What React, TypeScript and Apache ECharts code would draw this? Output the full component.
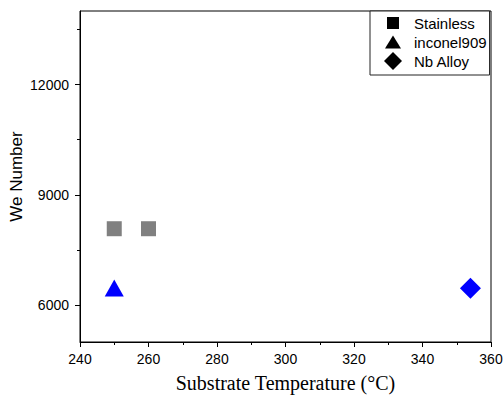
import React, { useEffect, useRef } from "react";
import * as echarts from "echarts";

const stainless: [number, number][] = [[250, 8080], [260, 8080]];
const inconel: [number, number][] = [[250, 6470]];
const nbAlloy: [number, number][] = [[354, 6460]];
const yMajor = [6000, 9000, 12000];
const yMinor = [7500, 10500, 13500];

const iconSquare = "path://M0,0M20,20M3.3,3.3h13.4v13.4h-13.4z";
const iconTriangle = "path://M0,0M20,20M10,2.8L18.9,17.2L1.1,17.2z";
const iconDiamond = "path://M0,0M20,20M10,0L20,10L10,20L0,10z";

export default function App() {
  const ref = useRef<HTMLDivElement>(null);
  useEffect(() => {
    const chart = echarts.init(ref.current!, null, { renderer: "svg" });
    const sans = "Liberation Sans, Arial, sans-serif";
    chart.setOption({
      animation: false,
      backgroundColor: "#fff",
      grid: {
        left: 80, right: 12, top: 11, bottom: 57,
        containLabel: false, outerBoundsMode: "none",
        show: true, borderColor: "#000", borderWidth: 1, backgroundColor: "transparent",
      },
      legend: {
        orient: "vertical",
        left: 370,
        top: 11,
        padding: [3, 3, 5, 14],
        itemGap: 1,
        itemWidth: 20,
        itemHeight: 18,
        borderColor: "#222",
        borderWidth: 1,
        backgroundColor: "#fff",
        textStyle: { fontFamily: sans, fontSize: 15, color: "#000", padding: [0, 0, 0, 6], lineHeight: 18 },
        data: [
          { name: "Stainless", icon: iconSquare, itemStyle: { color: "#000", opacity: 1 } },
          { name: "inconel909", icon: iconTriangle, itemStyle: { color: "#000", opacity: 1 } },
          { name: "Nb Alloy", icon: iconDiamond, itemStyle: { color: "#000", opacity: 1 } },
        ],
      },
      xAxis: {
        type: "value",
        min: 240,
        max: 360,
        interval: 20,
        name: "Substrate Temperature (°C)",
        nameLocation: "middle",
        nameGap: 31,
        nameMoveOverlap: false,
        nameTextStyle: { fontFamily: "Liberation Serif, Times New Roman, serif", fontSize: 20, color: "#000" },
        axisLine: { show: true, lineStyle: { color: "#000", width: 1 } },
        axisTick: { show: true, length: 5, lineStyle: { color: "#000" } },
        minorTick: { show: true, splitNumber: 2, length: 3, lineStyle: { color: "#000" } },
        axisLabel: { fontFamily: sans, fontSize: 14, color: "#000", margin: 10, formatter: (v: number) => String(v) },
        splitLine: { show: false },
      },
      yAxis: [
        {
          type: "value",
          min: 5000,
          max: 14000,
          name: "We Number",
          nameLocation: "middle",
          nameGap: 55,
          nameMoveOverlap: false,
          nameTextStyle: { fontFamily: sans, fontSize: 17, color: "#000" },
          axisLine: { show: true, lineStyle: { color: "#000", width: 1 } },
          axisTick: { show: true, length: 5, customValues: yMajor, lineStyle: { color: "#000" } },
          axisLabel: { fontFamily: sans, fontSize: 14, color: "#000", margin: 11, customValues: yMajor, formatter: (v: number) => String(v) },
          splitLine: { show: false },
        },
        {
          type: "value",
          min: 5000,
          max: 14000,
          position: "left",
          axisLine: { show: false },
          axisTick: { show: true, length: 3, customValues: yMinor, lineStyle: { color: "#000" } },
          axisLabel: { show: false },
          splitLine: { show: false },
        },
      ],
      series: [
        { name: "Stainless", type: "scatter", data: stainless, symbol: "rect", symbolSize: 15, itemStyle: { color: "#808080", opacity: 1 } },
        { name: "inconel909", type: "scatter", data: inconel, symbol: "triangle", symbolSize: [19, 17], itemStyle: { color: "#0000ff", opacity: 1 } },
        { name: "Nb Alloy", type: "scatter", data: nbAlloy, symbol: "diamond", symbolSize: 21, itemStyle: { color: "#0000ff", opacity: 1 } },
      ],
    });
    return () => chart.dispose();
  }, []);
  return <div ref={ref} style={{ position: "fixed", left: 0, top: 0, width: 503, height: 399 }} />;
}
